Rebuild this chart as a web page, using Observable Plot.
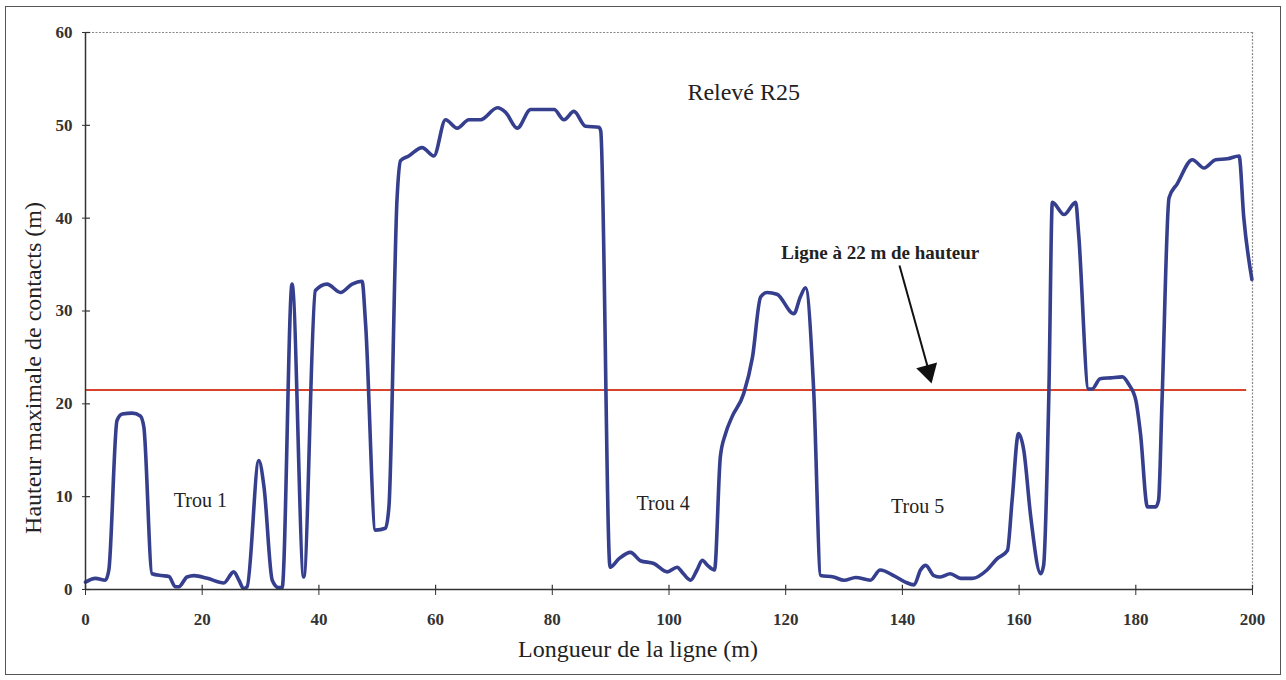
<!DOCTYPE html>
<html>
<head>
<meta charset="utf-8">
<script src="https://cdn.jsdelivr.net/npm/d3@7"></script>
<script src="https://cdn.jsdelivr.net/npm/@observablehq/plot@0.6"></script>
<style>
  html, body { margin: 0; padding: 0; background: #ffffff; }
  #wrap { position: relative; width: 1286px; height: 680px; }
  #frame { position: absolute; left: 5px; top: 6px; width: 1276px; height: 669px; border: 1.5px solid #555; box-sizing: border-box; pointer-events: none; }
</style>
</head>
<body>
<div id="wrap"><div id="frame"></div></div>
<script>
// Distance along the line (m)
const distance = [0,1.7,3.4,4.0,5.4,6.3,8.0,9.4,10.0,11.4,13.1,14.3,15.4,16.0,17.4,18.6,20.9,23.7,25.4,26.3,27.1,27.7,29.7,30.6,32.0,33.1,33.7,35.4,37.4,39.4,41.4,43.7,45.7,47.4,48.0,49.7,51.4,52.0,53.4,54.0,55.4,57.7,59.7,61.7,63.7,65.7,67.7,70.6,72.0,74.0,76.3,79.1,80.3,82.0,83.7,85.7,88.0,88.3,89.9,91.4,93.4,95.1,97.4,99.7,101.4,102.2,103.7,104.8,105.7,106.6,107.8,108.8,109.7,110.8,112.8,114.3,115.7,116.8,118.5,121.4,122.5,123.4,124.8,126.0,128.2,130.0,132.0,134.5,136.2,138.5,140.5,142.0,143.1,144.0,145.4,146.5,148.2,150.0,152.0,154.5,156.2,158.0,158.8,159.9,160.8,162.0,163.7,164.2,165.1,165.7,167.7,169.7,170.2,171.9,172.5,173.9,175.7,177.7,178.8,180.0,180.8,182.0,183.4,183.9,184.5,185.7,187.1,189.7,191.7,193.7,195.7,197.7,198.5,199.9];
// Maximum contact height (m)
const height = [0.8,1.2,1.0,2.1,18.2,18.9,19.0,18.7,17.5,1.7,1.5,1.4,0.3,0.3,1.35,1.5,1.2,0.7,1.9,1.0,0.1,0.3,13.9,11.0,1.0,0.2,0.2,32.9,1.35,32.2,32.9,32.0,32.9,33.2,28.6,6.4,6.6,8.9,42.2,46.2,46.7,47.6,46.7,50.6,49.7,50.6,50.6,51.9,51.4,49.7,51.7,51.7,51.7,50.6,51.5,49.9,49.8,49.4,2.4,3.3,4.0,3.1,2.8,1.9,2.4,1.9,1.0,2.1,3.15,2.6,2.1,14.3,16.8,18.6,21.1,25.0,31.5,32.0,31.8,29.7,31.5,32.5,21.4,1.5,1.35,1.0,1.3,1.0,2.1,1.5,0.8,0.5,2.1,2.6,1.5,1.35,1.7,1.2,1.2,2.1,3.3,4.2,9.6,16.8,15.0,7.8,1.7,2.6,21.1,41.7,40.4,41.7,38.3,21.6,21.6,22.7,22.8,22.9,22.1,20.4,16.8,8.9,8.9,9.6,20.4,42.2,43.7,46.3,45.4,46.3,46.4,46.7,40.1,33.4];
const lineHeight = [21.5];
const xTicks = [0,20,40,60,80,100,120,140,160,180,200];
const yTicks = [0,10,20,30,40,50,60];
const holeLabels = ["Trou 1", "Trou 4", "Trou 5"];
const holeX = [19.7, 99.0, 142.6];
const holeY = [9.6, 9.25, 8.9];

const data = distance.map((d, i) => ({x: d, y: height[i]}));
const holes = holeLabels.map((t, i) => ({t, x: holeX[i], y: holeY[i]}));

const serif = "'Liberation Serif', 'Times New Roman', serif";
const axisColor = "#333";

const chart = Plot.plot({
  width: 1286,
  height: 680,
  marginLeft: 85,
  marginRight: 34,
  marginTop: 32,
  marginBottom: 91,
  style: {fontFamily: serif, background: "transparent", color: "#222"},
  x: {domain: [0, 200]},
  y: {domain: [0, 60]},
  marks: [
    // plot-area border (top / right dotted)
    Plot.ruleY([60], {stroke: "#888", strokeWidth: 1.2, strokeDasharray: "2,1.5"}),
    Plot.ruleX([200], {stroke: "#888", strokeWidth: 1.2, strokeDasharray: "2,1.5"}),
    // 22 m line
    Plot.ruleY(lineHeight, {x1: 0, x2: 199, stroke: "#d8432c", strokeWidth: 2}),
    // profile
    Plot.line(data, {x: "x", y: "y", curve: "monotone-x", stroke: "#353f8e", strokeWidth: 3.6, strokeLinejoin: "round"}),
    // axes
    Plot.ruleY([0], {stroke: axisColor, strokeWidth: 1.5}),
    Plot.ruleX([0], {stroke: axisColor, strokeWidth: 1.5}),
    Plot.axisX(xTicks, {tickSize: 6, tickPadding: 17, fontSize: 17, fontWeight: "bold", color: axisColor, label: null}),
    Plot.ruleX(xTicks, {y1: 0, y2: 0.45, stroke: axisColor, strokeWidth: 1.2}),
    Plot.axisY(yTicks, {tickSize: 3, tickPadding: 10, fontSize: 17, fontWeight: "bold", color: axisColor, label: null}),
    Plot.ruleY(yTicks, {x1: 0, x2: 0.85, stroke: axisColor, strokeWidth: 1.2}),
    // axis titles
    Plot.text(["Longueur de la ligne (m)"], {frameAnchor: "bottom", lineAnchor: "middle", textAnchor: "middle", dx: -31, dy: 60, fontSize: 24, fill: "#222"}),
    Plot.text(["Hauteur maximale de contacts (m)"], {frameAnchor: "left", textAnchor: "middle", lineAnchor: "middle", dx: -52, dy: 57, rotate: -90, fontSize: 24, fill: "#222"}),
    // annotations
    Plot.text(["Relevé R25"], {x: 112.8, y: 53.6, fontSize: 24, fill: "#222"}),
    Plot.text(holes, {x: "x", y: "y", text: "t", fontSize: 20, fill: "#222"}),
    Plot.text(["Ligne à 22 m de hauteur"], {x: 136.2, y: 36.3, fontSize: 19, fontWeight: "bold", fill: "#222"}),
    Plot.link([0], {x1: 139.5, y1: 34.9, x2: 144.5, y2: 23.6, stroke: "#111", strokeWidth: 2}),
    Plot.dot([0], {x: 144.44, y: 23.49, symbol: "triangle", r: 8, fill: "#111", stroke: "none", rotate: 164.8})
  ]
});
chart.style.position = "absolute";
chart.style.left = "0";
chart.style.top = "0";
document.getElementById("wrap").prepend(chart);
</script>
</body>
</html>
